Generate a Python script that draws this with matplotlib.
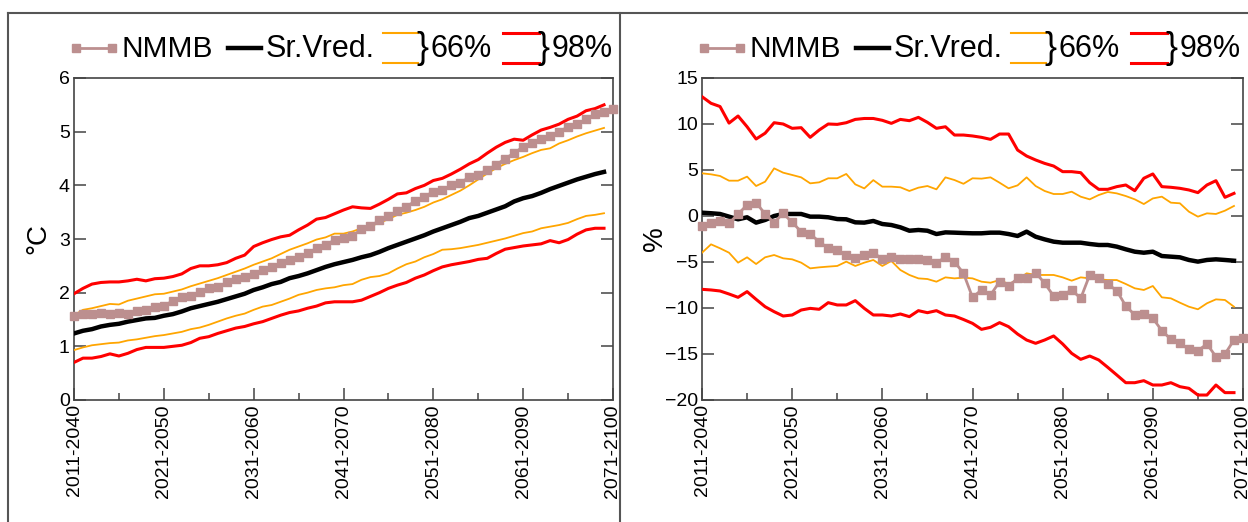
import numpy as np
import matplotlib
matplotlib.use("Agg")
import matplotlib.pyplot as plt
from matplotlib.lines import Line2D
from matplotlib.ticker import MultipleLocator

plt.rcParams['font.family'] = ['Liberation Sans', 'DejaVu Sans']

# ---------------- data ----------------
period_labels = ['2011-2040', '2021-2050', '2031-2060', '2041-2070',
                 '2051-2080', '2061-2090', '2071-2100']

# Temperature change (deg C)
temp_nmmb = [1.57, 1.60, 1.60, 1.63, 1.60, 1.63, 1.61, 1.65, 1.68, 1.74,
             1.75, 1.85, 1.91, 1.94, 2.02, 2.08, 2.11, 2.19, 2.25, 2.29,
             2.35, 2.42, 2.48, 2.55, 2.61, 2.67, 2.73, 2.83, 2.89, 2.98,
             3.01, 3.06, 3.18, 3.24, 3.35, 3.42, 3.53, 3.60, 3.71, 3.79,
             3.88, 3.91, 4.00, 4.05, 4.15, 4.20, 4.29, 4.38, 4.50, 4.60,
             4.72, 4.78, 4.86, 4.91, 5.00, 5.09, 5.14, 5.23, 5.33, 5.37, 5.42]
temp_mean = [1.24, 1.29, 1.32, 1.37, 1.40, 1.42, 1.46, 1.49, 1.52, 1.53,
             1.57, 1.60, 1.65, 1.71, 1.75, 1.79, 1.83, 1.88, 1.93, 1.98,
             2.05, 2.10, 2.16, 2.20, 2.27, 2.31, 2.36, 2.42, 2.48, 2.53,
             2.57, 2.61, 2.66, 2.70, 2.76, 2.83, 2.89, 2.95, 3.01, 3.07,
             3.14, 3.20, 3.26, 3.32, 3.39, 3.43, 3.49, 3.55, 3.61, 3.70,
             3.76, 3.80, 3.86, 3.93, 3.99, 4.05, 4.11, 4.16, 4.21, 4.25]
temp_66_hi = [1.58, 1.68, 1.71, 1.75, 1.79, 1.78, 1.85, 1.89, 1.93, 1.97,
              1.98, 2.02, 2.06, 2.12, 2.17, 2.22, 2.27, 2.33, 2.39, 2.45,
              2.52, 2.58, 2.64, 2.72, 2.80, 2.86, 2.92, 2.99, 3.03, 3.10,
              3.10, 3.14, 3.20, 3.24, 3.30, 3.37, 3.45, 3.49, 3.54, 3.60,
              3.68, 3.74, 3.82, 3.90, 4.00, 4.11, 4.22, 4.32, 4.40, 4.47,
              4.53, 4.60, 4.66, 4.69, 4.78, 4.84, 4.91, 4.97, 5.02, 5.07]
temp_66_lo = [0.93, 0.98, 1.02, 1.04, 1.06, 1.07, 1.11, 1.13, 1.16, 1.19,
              1.21, 1.24, 1.27, 1.32, 1.35, 1.40, 1.46, 1.52, 1.57, 1.61,
              1.68, 1.74, 1.77, 1.83, 1.89, 1.96, 2.00, 2.05, 2.08, 2.10,
              2.14, 2.16, 2.24, 2.29, 2.31, 2.36, 2.45, 2.53, 2.58, 2.66,
              2.72, 2.80, 2.81, 2.83, 2.86, 2.89, 2.93, 2.97, 3.01, 3.06,
              3.11, 3.14, 3.20, 3.23, 3.26, 3.30, 3.37, 3.43, 3.45, 3.48]
temp_98_hi = [1.98, 2.08, 2.16, 2.19, 2.20, 2.20, 2.22, 2.25, 2.22, 2.26,
              2.27, 2.30, 2.35, 2.45, 2.50, 2.50, 2.52, 2.56, 2.64, 2.70,
              2.86, 2.93, 2.99, 3.04, 3.07, 3.17, 3.26, 3.37, 3.40, 3.47,
              3.54, 3.60, 3.58, 3.57, 3.65, 3.74, 3.84, 3.86, 3.94, 4.00,
              4.09, 4.13, 4.21, 4.30, 4.40, 4.48, 4.60, 4.71, 4.80, 4.86,
              4.84, 4.94, 5.03, 5.08, 5.14, 5.23, 5.29, 5.39, 5.43, 5.50]
temp_98_lo = [0.70, 0.78, 0.78, 0.81, 0.86, 0.82, 0.87, 0.94, 0.98, 0.98,
              0.98, 1.00, 1.02, 1.07, 1.15, 1.18, 1.24, 1.29, 1.34, 1.37,
              1.42, 1.46, 1.52, 1.58, 1.63, 1.66, 1.71, 1.75, 1.81, 1.83,
              1.83, 1.83, 1.86, 1.93, 2.00, 2.08, 2.14, 2.19, 2.27, 2.33,
              2.41, 2.48, 2.52, 2.55, 2.58, 2.62, 2.64, 2.73, 2.81, 2.84,
              2.87, 2.89, 2.91, 2.97, 2.93, 2.99, 3.09, 3.17, 3.20, 3.20]

# Precipitation change (%)
prec_nmmb = [-1.09, -0.80, -0.50, -0.80, 0.22, 1.20, 1.45, 0.22, -0.72, 0.29,
             -0.69, -1.70, -1.96, -2.79, -3.51, -3.70, -4.24, -4.53, -4.24, -3.99,
             -4.67, -4.42, -4.67, -4.71, -4.71, -4.78, -5.14, -4.42, -4.96, -6.23,
             -8.84, -8.04, -8.59, -7.14, -7.61, -6.78, -6.78, -6.16, -7.30, -8.70,
             -8.59, -8.04, -8.95, -6.41, -6.78, -7.39, -8.12, -9.78, -10.76, -10.65,
             -11.12, -12.46, -13.40, -13.84, -14.49, -14.64, -13.91, -15.29, -15.00, -13.48,
             -13.30]
prec_mean = [0.36, 0.30, 0.22, -0.07, -0.36, -0.14, -0.72, -0.43, 0.00, 0.22,
             0.22, 0.22, -0.07, -0.07, -0.14, -0.33, -0.36, -0.69, -0.72, -0.54,
             -0.87, -0.98, -1.23, -1.60, -1.52, -1.60, -1.96, -1.78, -1.81, -1.85,
             -1.88, -1.88, -1.81, -1.81, -1.96, -2.17, -1.70, -2.25, -2.54, -2.79,
             -2.90, -2.90, -2.90, -3.04, -3.15, -3.15, -3.33, -3.62, -3.88, -3.99,
             -3.88, -4.35, -4.42, -4.49, -4.78, -4.96, -4.78, -4.71, -4.78, -4.86]
prec_66_hi = [4.64, 4.53, 4.35, 3.84, 3.84, 4.28, 3.26, 3.73, 5.18, 4.71,
              4.46, 4.20, 3.55, 3.66, 4.10, 4.10, 4.57, 3.44, 3.00, 3.90,
              3.19, 3.19, 3.12, 2.72, 3.08, 3.26, 2.90, 4.20, 3.91, 3.50,
              4.10, 4.06, 4.20, 3.62, 3.01, 3.33, 4.20, 3.26, 2.72, 2.39,
              2.39, 2.64, 2.10, 1.81, 2.28, 2.61, 2.46, 2.17, 1.81, 1.30,
              1.91, 2.10, 1.45, 1.38, 0.47, -0.07, 0.29, 0.22, 0.58, 1.09]
prec_66_lo = [-3.99, -3.08, -3.51, -3.99, -5.07, -4.49, -5.22, -4.49, -4.24, -4.60,
              -4.71, -5.07, -5.69, -5.58, -5.50, -5.43, -4.96, -5.43, -5.07, -4.78,
              -5.43, -4.89, -5.87, -6.41, -6.78, -6.85, -7.14, -6.67, -6.78, -6.70,
              -6.78, -7.14, -7.25, -6.96, -7.39, -6.96, -6.23, -6.41, -6.41, -6.41,
              -6.67, -7.03, -6.67, -6.78, -6.88, -6.96, -6.96, -7.39, -7.86, -8.04,
              -7.61, -8.84, -8.95, -9.42, -9.86, -10.14, -9.49, -9.06, -9.13, -9.86]
prec_98_hi = [12.97, 12.25, 11.90, 10.10, 10.87, 9.70, 8.37, 9.00, 10.14, 10.00,
              9.53, 9.60, 8.55, 9.35, 10.00, 9.96, 10.14, 10.50, 10.60, 10.60,
              10.40, 10.07, 10.50, 10.36, 10.72, 10.18, 9.53, 9.70, 8.80, 8.80,
              8.70, 8.55, 8.33, 8.91, 8.91, 7.17, 6.52, 6.09, 5.72, 5.43,
              4.82, 4.82, 4.71, 3.62, 2.90, 2.90, 3.19, 3.37, 2.75, 4.10,
              4.57, 3.19, 3.12, 3.01, 2.83, 2.54, 3.37, 3.84, 2.03, 2.46]
prec_98_lo = [-7.97, -8.04, -8.15, -8.48, -8.84, -8.22, -9.06, -9.86, -10.40, -10.87,
              -10.76, -10.22, -10.04, -10.14, -9.42, -9.67, -9.67, -9.20, -10.04, -10.76,
              -10.76, -10.87, -10.65, -10.94, -10.29, -10.51, -10.29, -10.76, -10.87, -11.25,
              -11.67, -12.32, -12.10, -11.59, -12.03, -12.83, -13.48, -13.84, -13.48, -13.04,
              -13.91, -14.93, -15.58, -15.22, -15.65, -16.45, -17.28, -18.12, -18.12, -17.90,
              -18.37, -18.37, -18.12, -18.55, -18.73, -19.46, -19.46, -18.37, -19.20, -19.20]

legend_labels = ['NMMB', 'Sr.Vred.', '66%', '98%']

# ---------------- styles ----------------
W, H = 1248, 522
C_NMMB = '#bc8f8f'
C_66 = '#ffa500'
C_98 = '#ff0000'
C_MEAN = 'black'
SPINE = '#444444'

fig = plt.figure(figsize=(W / 100, H / 100), dpi=100)
fig.patch.set_facecolor('white')


def fx(x):
    return x / W


def fy(y):
    return 1 - y / H


ax_t = fig.add_axes([fx(74), fy(400), fx(613) - fx(74), fy(78) - fy(400)])
ax_p = fig.add_axes([fx(702), fy(400), fx(1243) - fx(702), fy(78) - fy(400)])


def draw_panel(ax, nmmb, mean, hi66, lo66, hi98, lo98, ylim, ystep, ylabel, ylab_x):
    x_ens = np.arange(len(mean))
    x_nm = np.arange(len(nmmb))
    ax.plot(x_ens, hi98, color=C_98, lw=2.2, zorder=3)
    ax.plot(x_ens, lo98, color=C_98, lw=2.2, zorder=3)
    ax.plot(x_ens, hi66, color=C_66, lw=1.3, zorder=3)
    ax.plot(x_ens, lo66, color=C_66, lw=1.3, zorder=3)
    ax.plot(x_ens, mean, color=C_MEAN, lw=3.2, zorder=4)
    ax.plot(x_nm, nmmb, color=C_NMMB, lw=2.0, marker='s', ms=6.2, mec=C_NMMB,
            mfc=C_NMMB, zorder=5, clip_on=False)
    ax.set_xlim(0, 60)
    ax.set_ylim(*ylim)
    ax.xaxis.set_minor_locator(MultipleLocator(5))
    ax.yaxis.set_major_locator(MultipleLocator(ystep))
    ax.set_xticks(np.arange(0, 61, 10))
    ax.set_xticklabels(period_labels, rotation=90, fontsize=14)
    ax.tick_params(axis='both', which='major', direction='in', length=8.6,
                   width=1.1, color=SPINE, labelsize=14, pad=3)
    ax.tick_params(axis='x', which='minor', direction='in', length=5,
                   width=1.1, color=SPINE)
    ax.tick_params(axis='y', which='both', left=True, right=True)
    ax.tick_params(axis='x', which='both', top=False, bottom=True)
    for s in ax.spines.values():
        s.set_color(SPINE)
        s.set_linewidth(1.2)
    ax.set_ylabel(ylabel, fontsize=20)
    ax.yaxis.label.set_verticalalignment('center')
    ax.yaxis.set_label_coords(ylab_x, 0.5)


draw_panel(ax_t, temp_nmmb, temp_mean, temp_66_hi, temp_66_lo, temp_98_hi, temp_98_lo,
           (0, 6), 1, '°C', (38 - 74) / 539)
draw_panel(ax_p, prec_nmmb, prec_mean, prec_66_hi, prec_66_lo, prec_98_hi, prec_98_lo,
           (-20, 15), 5, '%', (655 - 702) / 541)


def legend(off):
    ly = 48
    fs = 22
    # NMMB
    fig.add_artist(Line2D([fx(off + 76), fx(off + 112)], [fy(ly), fy(ly)],
                          color=C_NMMB, lw=2.0, marker='s', ms=6.2,
                          transform=fig.transFigure))
    fig.text(fx(off + 121), fy(ly + 1), legend_labels[0], fontsize=21.5,
             ha='left', va='center')
    # Mean
    fig.add_artist(Line2D([fx(off + 228), fx(off + 261)], [fy(ly), fy(ly)],
                          color=C_MEAN, lw=3.2, transform=fig.transFigure))
    fig.text(fx(off + 266), fy(ly + 1), legend_labels[1], fontsize=fs,
             ha='left', va='center')
    # 66%
    for yy in (33, 63):
        fig.add_artist(Line2D([fx(off + 383), fx(off + 418)], [fy(yy), fy(yy)],
                              color=C_66, lw=1.5, transform=fig.transFigure))
    fig.text(fx(off + 416), fy(ly + 1), '}', fontsize=26, ha='left', va='center')
    fig.text(fx(off + 431), fy(ly + 1), legend_labels[2], fontsize=fs,
             ha='left', va='center')
    # 98%
    for yy in (33, 63):
        fig.add_artist(Line2D([fx(off + 503), fx(off + 539)], [fy(yy), fy(yy)],
                              color=C_98, lw=2.2, transform=fig.transFigure))
    fig.text(fx(off + 537), fy(ly + 1), '}', fontsize=26, ha='left', va='center')
    fig.text(fx(off + 552), fy(ly + 1), legend_labels[3], fontsize=fs,
             ha='left', va='center')


legend(0)
legend(628)

# table frame
FRAME = '#555555'
fig.add_artist(Line2D([fx(8), fx(1248)], [fy(12.5), fy(12.5)], color=FRAME, lw=1.5,
                      transform=fig.transFigure))
fig.add_artist(Line2D([fx(8), fx(8)], [fy(12.5), fy(522)], color=FRAME, lw=1.5,
                      transform=fig.transFigure))
fig.add_artist(Line2D([fx(620), fx(620)], [fy(12.5), fy(522)], color=FRAME, lw=1.5,
                      transform=fig.transFigure, zorder=10))

fig.savefig('out.png', dpi=100, facecolor='white')
